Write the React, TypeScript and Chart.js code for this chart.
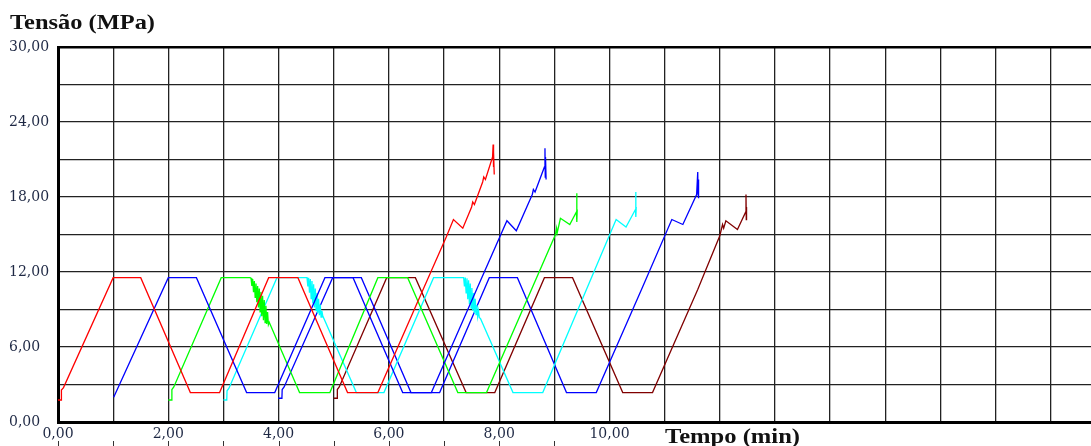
import React, { useEffect, useRef } from "react";
import { Chart, registerables } from "chart.js";

Chart.register(...registerables);

// ---- Data (time in min, stress in MPa) ----
const redT = [0, 0.06, 0.062, 0.1, 1.0, 1.5, 2.4, 2.93, 3.82, 4.35, 5.25, 5.8, 6.5, 7.04, 7.17, 7.34, 7.5, 7.52, 7.55, 7.7, 7.72, 7.75, 7.88, 7.89, 7.895, 7.9, 7.91];
const redV = [1.76, 1.76, 2.56, 2.75, 11.55, 11.55, 2.35, 2.35, 11.55, 11.55, 2.35, 2.35, 9.4, 14.8, 16.2, 15.5, 17.2, 17.6, 17.4, 19.2, 19.6, 19.4, 21.2, 22.2, 20.4, 21.6, 19.8];

const blue1T = [1.01, 2.0, 2.51, 3.42, 3.93, 4.84, 5.35, 6.25, 6.77, 7.6, 8.14, 8.31, 8.6, 8.62, 8.65, 8.82, 8.83, 8.835, 8.84, 8.85];
const blue1V = [1.98, 11.55, 11.55, 2.35, 2.35, 11.55, 11.55, 2.35, 2.35, 10.7, 16.1, 15.3, 18.2, 18.6, 18.4, 20.4, 21.9, 19.6, 21.2, 19.4];

const greenT = [2.0, 2.06, 2.065, 2.1, 2.96, 3.48, 3.5, 3.515, 3.53, 3.545, 3.56, 3.575, 3.59, 3.605, 3.62, 3.635, 3.65, 3.665, 3.68, 3.695, 3.71, 3.725, 3.74, 3.755, 3.77, 3.785, 3.8, 3.815, 3.83, 4.38, 4.93, 5.8, 6.34, 7.25, 7.77, 9.02, 9.04, 9.05, 9.11, 9.28, 9.4, 9.405, 9.41, 9.415];
const greenV = [1.76, 1.76, 2.6, 2.8, 11.55, 11.55, 11.5, 10.89, 11.44, 10.39, 11.28, 9.98, 11.08, 9.58, 10.87, 9.17, 10.67, 8.81, 10.41, 8.46, 10.1, 8.15, 9.75, 7.95, 9.29, 7.84, 8.79, 7.79, 7.98, 2.35, 2.35, 11.55, 11.55, 2.35, 2.35, 15.0, 15.5, 15.1, 16.3, 15.8, 16.8, 18.3, 16.0, 17.0];

const cyanT = [3.0, 3.06, 3.065, 3.1, 3.97, 4.5, 4.515, 4.53, 4.545, 4.56, 4.575, 4.59, 4.605, 4.62, 4.635, 4.65, 4.665, 4.68, 4.695, 4.71, 4.725, 4.74, 4.755, 4.77, 4.785, 4.8, 5.41, 5.91, 6.81, 7.34, 7.355, 7.37, 7.385, 7.4, 7.415, 7.43, 7.445, 7.46, 7.475, 7.49, 7.505, 7.52, 7.535, 7.55, 7.565, 7.58, 7.595, 7.61, 7.625, 7.64, 7.66, 8.25, 8.79, 10.12, 10.3, 10.47, 10.475, 10.48, 10.485];
const cyanV = [1.76, 1.76, 2.5, 2.7, 11.55, 11.55, 11.55, 10.84, 11.54, 10.34, 11.44, 9.88, 11.28, 9.48, 11.02, 9.17, 10.67, 8.91, 10.31, 8.71, 9.86, 8.55, 9.4, 8.4, 8.89, 8.49, 2.35, 2.35, 11.55, 11.55, 11.55, 10.84, 11.55, 10.34, 11.49, 9.83, 11.33, 9.43, 11.07, 9.12, 10.72, 8.91, 10.31, 8.71, 9.86, 8.6, 9.35, 8.45, 8.89, 8.34, 8.28, 2.35, 2.35, 16.2, 15.6, 17.0, 18.4, 16.4, 17.2];

const blue2T = [3.99, 4.06, 4.065, 4.1, 4.98, 5.5, 6.4, 6.92, 7.82, 8.33, 9.22, 9.76, 10.6, 11.13, 11.33, 11.58, 11.6, 11.605, 11.61, 11.62];
const blue2V = [1.9, 1.9, 2.6, 2.8, 11.55, 11.55, 2.35, 2.35, 11.55, 11.55, 2.35, 2.35, 10.8, 16.2, 15.8, 18.2, 20.0, 18.3, 19.4, 17.9];

const brownT = [5.0, 5.06, 5.065, 5.1, 5.96, 6.48, 7.4, 7.92, 8.82, 9.33, 10.24, 10.78, 11.6, 12.0, 12.05, 12.07, 12.11, 12.32, 12.47, 12.475, 12.48, 12.485];
const brownV = [1.9, 1.9, 2.6, 2.8, 11.55, 11.55, 2.35, 2.35, 11.55, 11.55, 2.35, 2.35, 10.6, 14.9, 15.8, 15.5, 16.1, 15.4, 16.8, 18.2, 16.2, 17.2];

const seriesColors = ["#ff0000", "#0000ff", "#00ff00", "#00ffff", "#0000ff", "#800000"];

const xLabelValues = [0, 2, 4, 6, 8, 10];
const yLabelValues = [0, 6, 12, 18, 24, 30];
const bottomMarkValues = [0, 1, 2, 3, 4, 5, 6, 7, 8, 9];
const yTitle = "Tensão (MPa)";
const xTitle = "Tempo (min)";

const fmt = (v: number) => v.toFixed(2).replace(".", ",");
const toPts = (t: number[], v: number[]) => t.map((x, i) => ({ x, y: v[i] }));

const titlesPlugin = {
  id: "titlesPlugin",
  afterDraw(chart: any) {
    const ctx = chart.ctx as CanvasRenderingContext2D;
    const drawText = (txt: string, left: number, baseline: number, size: number, width: number) => {
      ctx.save();
      ctx.font = `bold ${size}px "Liberation Serif", "Times New Roman", serif`;
      ctx.fillStyle = "#111111";
      ctx.textBaseline = "alphabetic";
      ctx.textAlign = "left";
      const w = ctx.measureText(txt).width;
      ctx.translate(left, baseline);
      ctx.scale(width / w, 1);
      ctx.fillText(txt, 0, 0);
      ctx.restore();
    };
    drawText(yTitle, 10, 29, 22, 145);
    drawText(xTitle, 665, 443, 20, 135);
    const xs = chart.scales.x;
    ctx.save();
    ctx.strokeStyle = "#333333";
    ctx.lineWidth = 1;
    for (const v of bottomMarkValues) {
      const px = Math.round(xs.getPixelForValue(v)) + 0.5;
      ctx.beginPath();
      ctx.moveTo(px, 441);
      ctx.lineTo(px, 446);
      ctx.stroke();
    }
    ctx.restore();
  },
};

export default function App() {
  const ref = useRef<HTMLCanvasElement | null>(null);
  useEffect(() => {
    if (!ref.current) return;
    const series = [
      toPts(redT, redV),
      toPts(blue1T, blue1V),
      toPts(greenT, greenV),
      toPts(cyanT, cyanV),
      toPts(blue2T, blue2V),
      toPts(brownT, brownV),
    ];
    const chart = new Chart(ref.current, {
      type: "line",
      data: {
        datasets: series.map((d, i) => ({
          data: d,
          borderColor: seriesColors[i],
          borderWidth: 1.3,
          pointRadius: 0,
          tension: 0,
          fill: false,
        })),
      },
      options: {
        animation: false,
        responsive: false,
        maintainAspectRatio: false,
        parsing: true,
        layout: { padding: { left: 9, top: 47, right: 4, bottom: 0 } },
        plugins: { legend: { display: false }, tooltip: { enabled: false }, title: { display: false } },
        scales: {
          x: {
            type: "linear",
            min: 0,
            max: 20,
            afterFit: (s: any) => { s.height = 24; },
            afterBuildTicks: (s: any) => {
              const t = [];
              for (let v = 0; v <= 20; v++) t.push({ value: v });
              s.ticks = t;
            },
            ticks: {
              autoSkip: false,
              maxRotation: 0,
              padding: 4,
              color: "#1e2844",
              font: { family: '"DejaVu Serif", serif', size: 14 },
              callback: (v: any) => (xLabelValues.includes(Number(v)) ? fmt(Number(v)) : ""),
            },
            grid: { color: "#222222", lineWidth: 1.3, drawTicks: false },
            border: { display: true, color: "#000000", width: 3 },
          },
          y: {
            type: "linear",
            min: 0,
            max: 30,
            afterFit: (s: any) => { s.width = 49; },
            ticks: {
              stepSize: 3,
              padding: 8,
              crossAlign: "far",
              color: "#1e2844",
              font: { family: '"DejaVu Serif", serif', size: 14 },
              callback: (v: any) => (yLabelValues.includes(Number(v)) ? fmt(Number(v)) : ""),
            },
            grid: {
              color: (c: any) => (c.tick && c.tick.value === 30 ? "#000000" : "#222222"),
              lineWidth: (c: any) => (c.tick && c.tick.value === 30 ? 2.5 : 1.3),
              drawTicks: false,
            },
            border: { display: true, color: "#000000", width: 3 },
          },
        },
      },
      plugins: [titlesPlugin],
    } as any);
    return () => chart.destroy();
  }, []);
  return (
    <div style={{ position: "fixed", left: 0, top: 0, width: 1091, height: 446, overflow: "hidden", background: "#ffffff" }}>
      <canvas ref={ref} width={1165} height={446} style={{ display: "block", width: 1165, height: 446 }} />
    </div>
  );
}
